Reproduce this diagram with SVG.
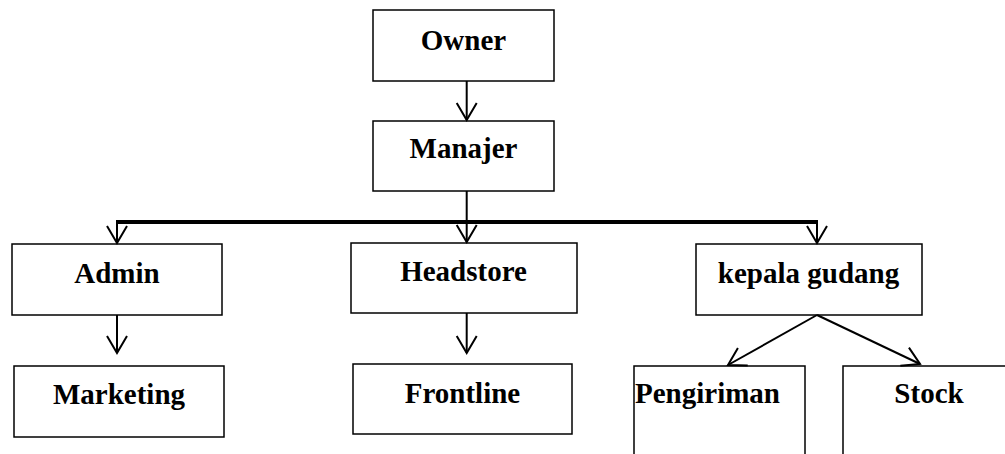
<svg xmlns="http://www.w3.org/2000/svg" width="1005" height="454" viewBox="0 0 1005 454">
<style>
.box{fill:#fff;stroke:#000;stroke-width:1.5}
.lbl{font-family:"Liberation Serif","Times New Roman",serif;font-weight:bold;font-size:29px;fill:#000}
.c{text-anchor:middle}
.ln{stroke:#000;stroke-width:2;fill:none}
.thick{stroke:#000;stroke-width:4;fill:none}
</style>
<defs>
<marker id="arr" markerUnits="userSpaceOnUse" markerWidth="24" markerHeight="24" viewBox="-20 -12 24 24" refX="0" refY="0" orient="auto">
<path d="M-17,-10 L0,0 L-17,10" fill="none" stroke="#000" stroke-width="2"/>
</marker>
</defs>
<rect width="1005" height="454" fill="#fff"/>
<g id="owner"><rect class="box" x="373" y="10" width="181" height="71"/><text class="lbl c" x="463.5" y="50">Owner</text></g>
<g id="manajer"><rect class="box" x="373" y="121" width="181" height="70"/><text class="lbl c" x="463.5" y="158">Manajer</text></g>
<g id="admin"><rect class="box" x="12" y="244" width="210" height="71"/><text class="lbl c" x="117" y="283">Admin</text></g>
<g id="headstore"><rect class="box" x="351" y="243" width="226" height="70"/><text class="lbl c" x="463.5" y="281">Headstore</text></g>
<g id="kepala-gudang"><rect class="box" x="696" y="244" width="226" height="71"/><text class="lbl c" x="808.5" y="283">kepala gudang</text></g>
<g id="marketing"><rect class="box" x="14" y="366" width="210" height="71"/><text class="lbl c" x="119" y="404">Marketing</text></g>
<g id="frontline"><rect class="box" x="353" y="364" width="219" height="70"/><text class="lbl c" x="462.5" y="403">Frontline</text></g>
<g id="pengiriman"><rect class="box" x="634" y="366" width="171" height="100"/><text class="lbl" x="635" y="403">Pengiriman</text></g>
<g id="stock"><rect class="box" x="843" y="366" width="180" height="100"/><text class="lbl c" x="929" y="403">Stock</text></g>
<g id="connectors">
<line class="ln" x1="466.7" y1="81" x2="466.7" y2="120" marker-end="url(#arr)"/>
<line class="ln" x1="466.7" y1="191" x2="466.7" y2="222"/>
<line class="thick" x1="117" y1="222" x2="817" y2="222"/>
<line class="ln" x1="117" y1="220" x2="117" y2="243" marker-end="url(#arr)"/>
<line class="ln" x1="466.7" y1="220" x2="466.7" y2="242" marker-end="url(#arr)"/>
<line class="ln" x1="817" y1="220" x2="817" y2="243" marker-end="url(#arr)"/>
<line class="ln" x1="117" y1="315" x2="117" y2="353" marker-end="url(#arr)"/>
<line class="ln" x1="466.7" y1="313" x2="466.7" y2="353" marker-end="url(#arr)"/>
<line class="ln" x1="817" y1="315" x2="728" y2="365" marker-end="url(#arr)"/>
<line class="ln" x1="817" y1="315" x2="920" y2="364" marker-end="url(#arr)"/>
</g>
</svg>
